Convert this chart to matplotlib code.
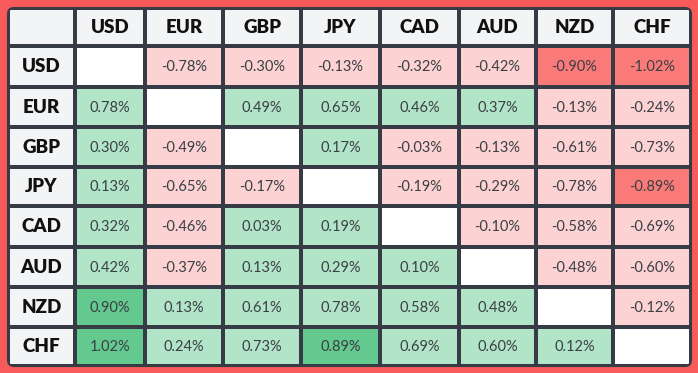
import matplotlib
matplotlib.use("Agg")
import matplotlib.pyplot as plt
import numpy as np
from matplotlib.colors import ListedColormap, BoundaryNorm
from matplotlib.patches import FancyBboxPatch

currencies = ["USD", "EUR", "GBP", "JPY", "CAD", "AUD", "NZD", "CHF"]
usd = [None, -0.78, -0.30, -0.13, -0.32, -0.42, -0.90, -1.02]
eur = [0.78, None, 0.49, 0.65, 0.46, 0.37, -0.13, -0.24]
gbp = [0.30, -0.49, None, 0.17, -0.03, -0.13, -0.61, -0.73]
jpy = [0.13, -0.65, -0.17, None, -0.19, -0.29, -0.78, -0.89]
cad = [0.32, -0.46, 0.03, 0.19, None, -0.10, -0.58, -0.69]
aud = [0.42, -0.37, 0.13, 0.29, 0.10, None, -0.48, -0.60]
nzd = [0.90, 0.13, 0.61, 0.78, 0.58, 0.48, None, -0.12]
chf = [1.02, 0.24, 0.73, 0.89, 0.69, 0.60, 0.12, None]
rows = [usd, eur, gbp, jpy, cad, aud, nzd, chf]

# layout (pixels)
W, H = 698, 373
xedges = [8, 75, 145, 223, 301, 380, 459, 536, 613, 691]
yedges = [8, 46, 87, 127, 167, 206, 247, 287, 327, 366]

FRAME = "#f65a5a"
GRID = "#363b45"
colors = ["#ffffff", "#fcd2d2", "#fa7a7a", "#b2e5c8", "#64c98f", "#f3f4f6"]
cmap = ListedColormap(colors)
norm = BoundaryNorm(np.arange(-0.5, len(colors) + 0.5, 1), cmap.N)

def category(v):
    if v is None:
        return 0
    if v < 0:
        return 2 if v <= -0.85 else 1
    return 4 if v >= 0.85 else 3

n = len(currencies)
cat = np.full((n + 1, n + 1), 5)
for i, r in enumerate(rows):
    for j, v in enumerate(r):
        cat[i + 1, j + 1] = category(v)

fig = plt.figure(figsize=(W / 100, H / 100), dpi=100, facecolor=FRAME)
ax = fig.add_axes([0, 0, 1, 1])
ax.set_xlim(0, W)
ax.set_ylim(H, 0)
ax.axis("off")
ax.set_facecolor(FRAME)

bg = FancyBboxPatch((xedges[0], yedges[0]), xedges[-1] - xedges[0], yedges[-1] - yedges[0],
                    boxstyle="round,pad=0,rounding_size=6", facecolor="#f3f4f6",
                    edgecolor="none", zorder=0)
ax.add_patch(bg)

mesh = ax.pcolormesh(xedges, yedges, cat, cmap=cmap, norm=norm,
                     edgecolor=GRID, linewidth=1.6, zorder=1)
mesh.set_clip_path(bg)

border = FancyBboxPatch((xedges[0], yedges[0]), xedges[-1] - xedges[0], yedges[-1] - yedges[0],
                        boxstyle="round,pad=0,rounding_size=6", facecolor="none",
                        edgecolor=GRID, linewidth=1.5, zorder=3)
ax.add_patch(border)

xc = [(xedges[k] + xedges[k + 1]) / 2 for k in range(len(xedges) - 1)]
yc = [(yedges[k] + yedges[k + 1]) / 2 for k in range(len(yedges) - 1)]

for j, c in enumerate(currencies):
    ax.text(xc[j + 1], yc[0] + 0.5, c, ha="center", va="center", fontsize=13.5,
            fontweight=800, family="Lato", color="#111111", zorder=4)
    ax.text(xc[0], yc[j + 1] + 0.5, c, ha="center", va="center", fontsize=13.5,
            fontweight=800, family="Lato", color="#111111", zorder=4)

for i, r in enumerate(rows):
    for j, v in enumerate(r):
        if v is None:
            continue
        ax.text(xc[j + 1], yc[i + 1] + 0.5, f"{v:.2f}%", ha="center", va="center",
                fontsize=10.5, family="Lato", color="#3a3f44", zorder=4)

fig.savefig("out.png", dpi=100, facecolor=FRAME)
